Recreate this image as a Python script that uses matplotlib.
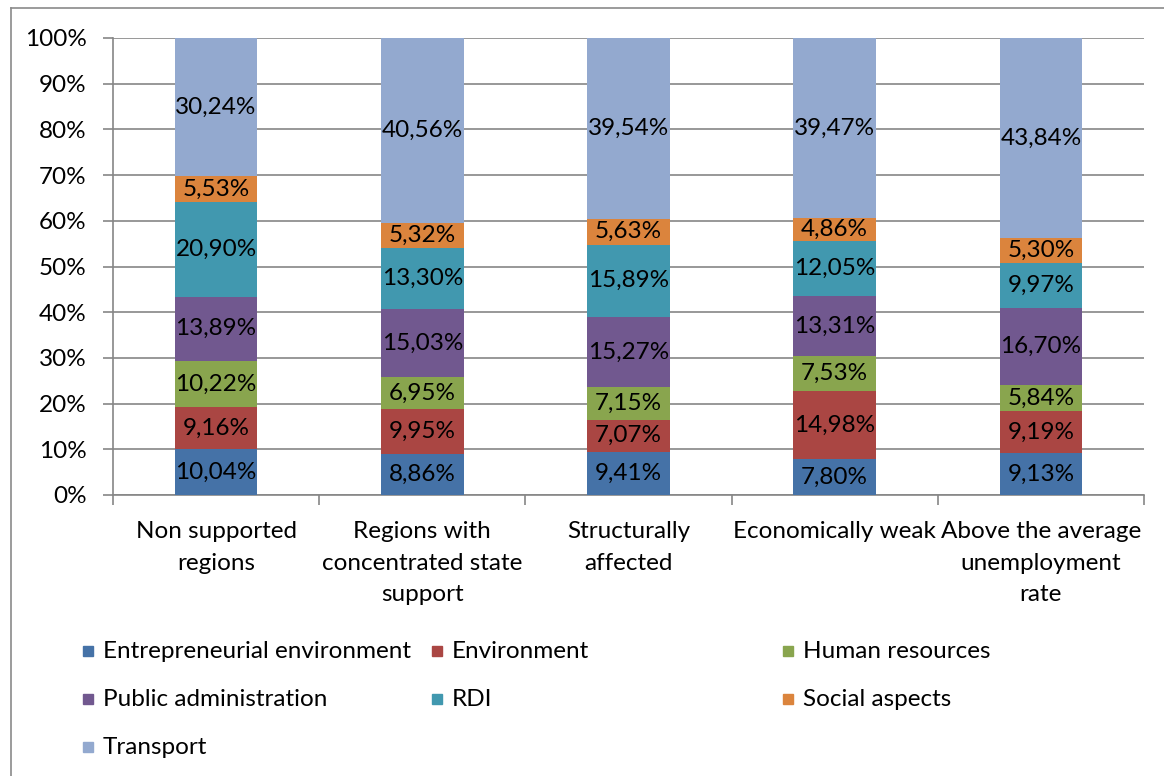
import matplotlib
matplotlib.use("Agg")
import matplotlib.pyplot as plt
from matplotlib.patches import Rectangle
from matplotlib.lines import Line2D
import numpy as np

categories = ["Non supported\nregions", "Regions with\nconcentrated state\nsupport",
              "Structurally\naffected", "Economically weak",
              "Above the average\nunemployment\nrate"]
series_names = ["Entrepreneurial environment", "Environment", "Human resources",
                "Public administration", "RDI", "Social aspects", "Transport"]
entrepreneurial = [10.04, 8.86, 9.41, 7.80, 9.13]
environment = [9.16, 9.95, 7.07, 14.98, 9.19]
human_resources = [10.22, 6.95, 7.15, 7.53, 5.84]
public_admin = [13.89, 15.03, 15.27, 13.31, 16.70]
rdi = [20.90, 13.30, 15.89, 12.05, 9.97]
social = [5.53, 5.32, 5.63, 4.86, 5.30]
transport = [30.24, 40.56, 39.54, 39.47, 43.84]
colors = ["#4572A7", "#AA4643", "#89A54E", "#71588F", "#4198AF", "#DB843D", "#93A9CF"]

plt.rcParams['font.family'] = ['Lato', 'DejaVu Sans']
FS = 17.5

W, H = 1164, 776
fig = plt.figure(figsize=(W / 100, H / 100), dpi=100)
ax = fig.add_axes([113 / W, 1 - 495 / H, (1144 - 113) / W, (495 - 38) / H])

data = np.array([entrepreneurial, environment, human_resources, public_admin, rdi, social, transport])
totals = data.sum(axis=0)
pct = data / totals * 100
x = np.arange(len(categories))
bottom = np.zeros(len(categories))
for i, name in enumerate(series_names):
    ax.bar(x, pct[i], 0.4, bottom=bottom, color=colors[i], label=name, zorder=3)
    for j in range(len(categories)):
        ax.text(x[j], bottom[j] + pct[i][j] / 2, f"{data[i][j]:.2f}%".replace(".", ","),
                ha="center", va="center", fontsize=FS, color="black", zorder=4)
    bottom += pct[i]

ax.set_xlim(-0.5, len(categories) - 0.5)
ax.set_ylim(0, 100)
ax.set_yticks(np.arange(0, 101, 10))
ax.set_yticklabels([f"{v}%" for v in range(0, 101, 10)], fontsize=FS)
ax.grid(axis="y", color="#868686", linewidth=1.2, zorder=1)
ax.set_xticks(x)
ax.set_xticklabels(categories, fontsize=FS, linespacing=1.6)
ax.set_xticks(np.arange(-0.5, len(categories), 1), minor=True)
ax.tick_params(axis="x", which="major", length=0, pad=19)
ax.tick_params(axis="x", which="minor", length=7, color="#868686", width=1.2, direction="out")
ax.tick_params(axis="y", length=7, color="#868686", width=1.2, pad=12)
for s in ["top", "right"]:
    ax.spines[s].set_visible(False)
for s in ["left", "bottom"]:
    ax.spines[s].set_color("#868686")
    ax.spines[s].set_linewidth(1.2)

# outer frame
fig.add_artist(Line2D([11 / W, 11 / W], [0, 1 - 8 / H], transform=fig.transFigure, color="#8a8a8a", lw=1.2))
fig.add_artist(Line2D([11 / W, 1], [1 - 8 / H, 1 - 8 / H], transform=fig.transFigure, color="#8a8a8a", lw=1.2))

# legend (fixed-width columns)
col_x = [83, 432, 783]
row_y = [651, 699, 747]
for k, name in enumerate(series_names):
    r, c = divmod(k, 3)
    mx, my = col_x[c], row_y[r]
    fig.add_artist(Rectangle((mx / W, 1 - (my + 5) / H), 10 / W, 10 / H,
                             transform=fig.transFigure, color=colors[k]))
    fig.text((mx + 20) / W, 1 - my / H, name, fontsize=FS, va="center", ha="left")

fig.savefig("out.png", dpi=100)
